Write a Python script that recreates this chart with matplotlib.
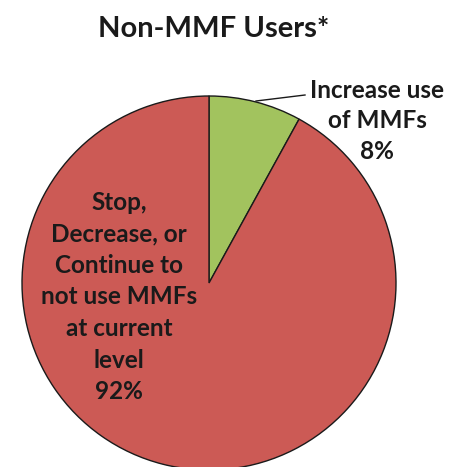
import matplotlib.pyplot as plt

# data
labels = ['Increase use\nof MMFs', 'Stop,\nDecrease, or\nContinue to\nnot use MMFs\nat current\nlevel']
shares = [8, 92]
colors = ['#A2C35E', '#CC5A55']
title = 'Non-MMF Users*'

W, H = 449, 467
plt.rcParams['font.family'] = ['Lato', 'DejaVu Sans']

fig = plt.figure(figsize=(W / 100, H / 100), dpi=100)
ax = fig.add_axes([0, 0, 1, 1])

cx, cy, r = 209, H - 283, 187
ax.pie(shares, colors=colors, startangle=90, counterclock=False,
       center=(cx, cy), radius=r,
       wedgeprops=dict(edgecolor='#1a1a1a', linewidth=1.0))
ax.set_xlim(0, W)
ax.set_ylim(0, H)
ax.set_aspect('equal')
ax.axis('off')

ax.text(214, H - 29, title, ha='center', va='center', fontsize=21, fontweight='bold', color='#1a1a1a')

# small slice label, outside with leader line
ax.text(377, H - 121, '{}\n{}%'.format(labels[0], shares[0]), ha='center', va='center',
        fontsize=17.5, fontweight='bold', color='#1a1a1a', linespacing=1.4)
ax.plot([256, 305], [H - 101, H - 95], color='#1a1a1a', lw=1)

# big slice label, inside
ax.text(119, H - 297, '{}\n{}%'.format(labels[1], shares[1]), ha='center', va='center',
        fontsize=17.5, fontweight='bold', color='#1a1a1a', linespacing=1.45)

fig.savefig('out.png', dpi=100)
